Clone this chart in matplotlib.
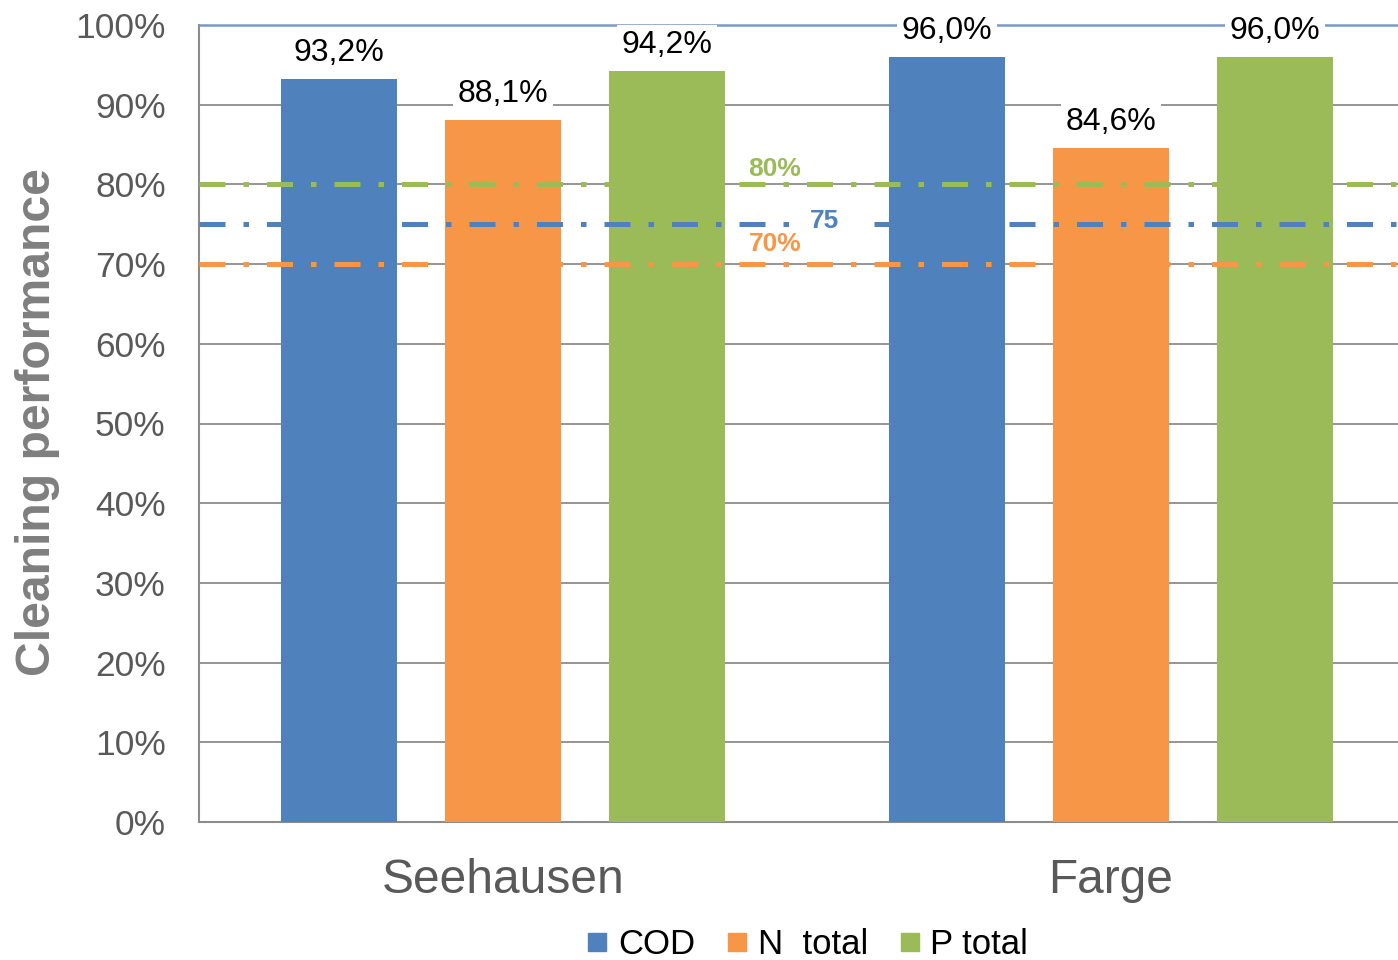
import matplotlib
matplotlib.use("Agg")
import matplotlib.pyplot as plt
from matplotlib.lines import Line2D
import numpy as np

plt.rcParams['font.family'] = ['Liberation Sans', 'DejaVu Sans']

# Plant names and parameter series (cleaning performance in %)
plants = ["Seehausen", "Farge"]
series = ["COD", "N  total", "P total"]
cod = [93.2, 96.0]
n_total = [88.1, 84.6]
p_total = [94.2, 96.0]
value_labels = [["93,2%", "96,0%"], ["88,1%", "84,6%"], ["94,2%", "96,0%"]]

# Required minimum performance per parameter
limits = [75, 70, 80]
limit_labels = ["75", "70%", "80%"]

yticks = [0, 10, 20, 30, 40, 50, 60, 70, 80, 90, 100]
ytick_labels = [f"{t}%" for t in yticks]

colors = ["#4F81BD", "#F79646", "#9BBB59"]
grey_text = "#595959"
grid_col = "#8C8C8C"

fig = plt.figure(figsize=(13.98, 9.60), dpi=100)
ax = fig.add_axes([199 / 1398, 1 - 822 / 960, 1216 / 1398, (822 - 25) / 960])

x = np.arange(len(plants))
offsets = [-0.27, 0.0, 0.27]
width = 0.19
data = [cod, n_total, p_total]

for vals, off, col, labs in zip(data, offsets, colors, value_labels):
    bars = ax.bar(x + off, vals, width=width, color=col, zorder=3)
    for b, v, lab in zip(bars, vals, labs):
        ax.annotate(lab, (b.get_x() + b.get_width() / 2, v),
                    xytext=(0, 8), textcoords="offset points",
                    ha="center", va="bottom", fontsize=23, color="black",
                    zorder=6,
                    bbox=dict(boxstyle="square,pad=0.15", fc="white", ec="none"))

# Threshold lines (dash-dot), drawn over the bars
dash = (0, (5.2, 3.6, 1.1, 3.6))
for val, col in zip(limits, colors):
    ax.axhline(val, color=col, lw=3.6, linestyle=dash, zorder=4)

ax.text(0.447, limits[2] + 1.9, limit_labels[2], color=colors[2], fontsize=19,
        fontweight="bold", ha="center", va="center", zorder=5)
ax.text(0.528, limits[0] + 0.4, limit_labels[0], color=colors[0], fontsize=19,
        fontweight="bold", ha="center", va="center", zorder=5,
        bbox=dict(boxstyle="square,pad=0.7", fc="white", ec="none"))
ax.text(0.447, limits[1] + 2.5, limit_labels[1], color=colors[1], fontsize=19,
        fontweight="bold", ha="center", va="center", zorder=5)

ax.set_xlim(-0.5, 1.5)
ax.set_ylim(0, 100)
ax.set_yticks(yticks)
ax.set_yticklabels(ytick_labels, fontsize=25.5, color=grey_text)
ax.yaxis.grid(True, color=grid_col, lw=1.3, zorder=0)
ax.set_axisbelow(True)
ax.tick_params(axis="y", length=0, pad=24)
ax.set_xticks(x)
ax.set_xticklabels(plants, fontsize=34.5, color=grey_text)
ax.tick_params(axis="x", length=0, pad=26)

for side in ["left", "bottom"]:
    ax.spines[side].set_color(grid_col)
    ax.spines[side].set_linewidth(1.5)
ax.spines["top"].set_color("#7B98C6")
ax.spines["top"].set_linewidth(1.8)
ax.spines["right"].set_visible(False)

fig.text(38 / 1398, 1 - 422 / 960, "Cleaning performance", rotation=90,
         fontsize=34.7, fontweight="bold", color="#7F7F7F",
         ha="center", va="center")

handles = [Line2D([], [], marker="s", linestyle="none", markersize=13,
                  markerfacecolor=c, markeredgecolor=c) for c in colors]
fig.legend(handles, series, loc="center", bbox_to_anchor=(804 / 1398, 1 - 945 / 960),
           ncol=3, frameon=False, fontsize=25, handletextpad=0.1,
           columnspacing=0.7, handlelength=1.0)

fig.savefig("out.png", dpi=100)
